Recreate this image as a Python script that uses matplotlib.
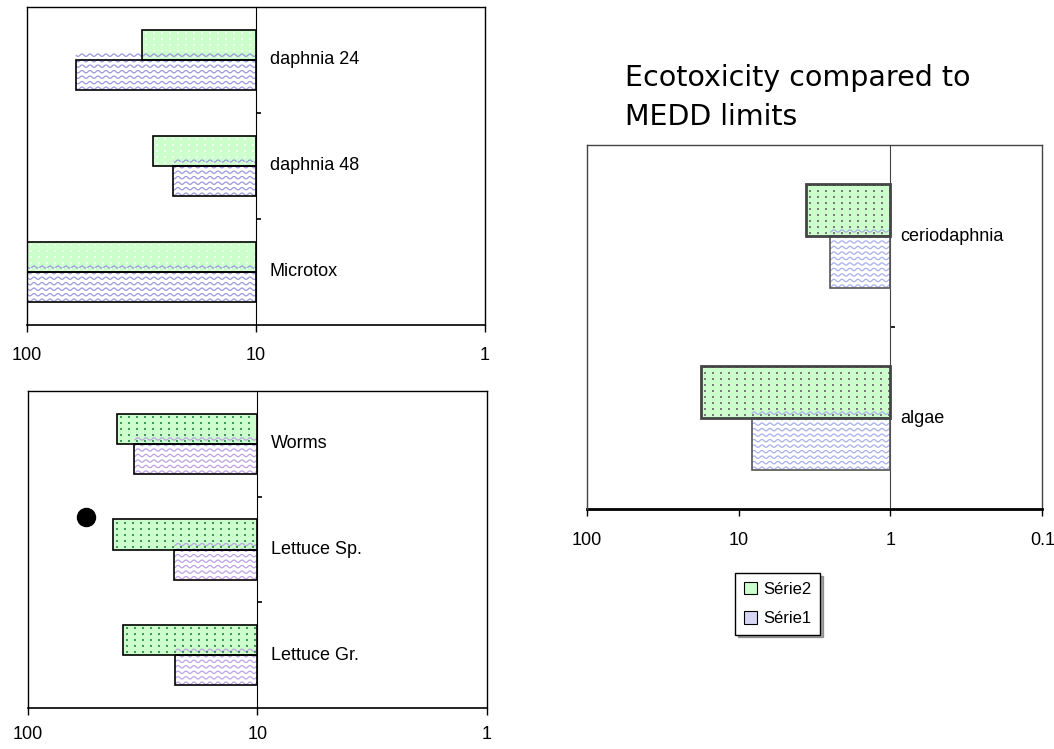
import numpy             as np
import matplotlib
matplotlib.use('Agg')
import matplotlib.pyplot as plt

from matplotlib.collections import LineCollection
from matplotlib.patches     import Patch
from matplotlib.transforms  import IdentityTransform
from matplotlib.ticker      import FixedLocator, FixedFormatter, NullLocator

labelfont = 'Liberation Sans'
labelsize = 13

# Toxicity values (bars start at the crossing value and run to the left)
top_categories = ['Microtox', 'daphnia 48', 'daphnia 24']
top_serie1     = [100, 23.0, 61.0]
top_serie2     = [100, 28.0, 31.5]

bottom_categories = ['Lettuce Gr.', 'Lettuce Sp.', 'Worms']
bottom_serie1     = [22.8, 23.0, 34.3]
bottom_serie2     = [38.6, 42.4, 40.7]

right_categories = ['algae', 'ceriodaphnia']
right_serie1     = [8.2, 2.5]
right_serie2     = [17.6, 3.6]

# Loose marker drawn on the plant panel
marker_x = 55.5
marker_y = 1.31

green = '#ccffcc'


def wave_texture(ax, bar, color, step=5.5, period=8.0, amp=1.2):
    """Draws wavy lines clipped to a bar (pixel spacing)."""
    bb = bar.get_window_extent()
    x  = np.arange(bb.x0, bb.x1 + 0.5, 0.5)
    segs = []
    for y0 in np.arange(bb.y0 + 2, bb.y1 + step, step):
        segs.append(np.column_stack([x, y0 + amp * np.sin(2 * np.pi * x / period)]))
    waves = LineCollection(segs, colors=color, linewidths=0.9,
                           transform=IdentityTransform(), zorder=2.5)
    waves.set_clip_path(bar)
    ax.add_collection(waves, autolim=False)


def dot_texture(ax, bar, color, dx=8.0, dy=6.0, size=3.0):
    """Draws a regular grid of small dots clipped to a bar."""
    bb = bar.get_window_extent()
    xs = np.arange(bb.x0 + 4, bb.x1, dx)
    ys = np.arange(bb.y0 + 3, bb.y1, dy)
    gx, gy = np.meshgrid(xs, ys)
    dots = ax.scatter(gx.ravel(), gy.ravel(), s=size, marker='s', color=color,
                      linewidths=0, transform=IdentityTransform(), zorder=2.5)
    dots.set_clip_path(bar)


def panel(rect, categories, serie1, serie2, base, xlim, xticks, xticklabels,
          wave_color, dot_color, edge1='black', edge2='black', lw2=1.2,
          frame_color='black', bottom_lw=1.2, pad=11, label_dx=10):
    ax = fig.add_axes(rect)
    ax.set_xscale('log')
    ax.set_xlim(*xlim)
    n = len(categories)
    ax.set_ylim(-0.5, n - 0.5)
    ax.set_autoscale_on(False)

    h   = 0.285
    pos = np.arange(n)
    s1  = np.array(serie1, dtype=float)
    s2  = np.array(serie2, dtype=float)

    bars1 = ax.barh(pos - h / 2, s1 - base, left=base, height=h,
                    color='white', edgecolor='none', zorder=2)
    bars2 = ax.barh(pos + h / 2, s2 - base, left=base, height=h,
                    color=green, edgecolor='none', zorder=2)
    for b in bars1:
        wave_texture(ax, b, wave_color)
    for b in bars2:
        dot_texture(ax, b, dot_color)
    ax.barh(pos - h / 2, s1 - base, left=base, height=h, fill=False,
            edgecolor=edge1, linewidth=1.2, zorder=3)
    ax.barh(pos + h / 2, s2 - base, left=base, height=h, fill=False,
            edgecolor=edge2, linewidth=lw2, zorder=3)

    # Category axis crosses at the base value
    ax.spines['left'].set_position(('data', base))
    ax.spines['left'].set_color(frame_color)
    for side in ['top', 'right']:
        ax.spines[side].set_color(frame_color)
        ax.spines[side].set_linewidth(1.0)
    ax.spines['bottom'].set_linewidth(bottom_lw)
    ax.plot([0, 0], [0, 1], transform=ax.transAxes, color=frame_color,
            lw=1.0, clip_on=False, zorder=4)

    ax.yaxis.set_major_locator(FixedLocator(np.arange(n - 1) + 0.5))
    ax.yaxis.set_major_formatter(FixedFormatter([''] * (n - 1)))
    ax.tick_params(axis='y', direction='in', length=3.5, width=1.2)

    ax.xaxis.set_major_locator(FixedLocator(xticks))
    ax.xaxis.set_major_formatter(FixedFormatter(xticklabels))
    ax.xaxis.set_minor_locator(NullLocator())
    ax.tick_params(axis='x', direction='out', length=5, width=1.0, pad=pad,
                   labelsize=labelsize)
    for t in ax.get_xticklabels():
        t.set_fontfamily(labelfont)

    for i, name in enumerate(categories):
        ax.annotate(name, xy=(base, i), xytext=(label_dx, 0), textcoords='offset points',
                    ha='left', va='center', fontsize=labelsize, family=labelfont)
    return ax


fig = plt.figure(figsize=(10.54, 7.49), dpi=100)

# Aquatic tests
panel([0.0253, 0.5661, 0.4349, 0.4246], top_categories, top_serie1, top_serie2,
      10, (100, 1), [100, 10, 1], ['100', '10', '1'],
      wave_color='#9a9ade', dot_color='#f2fff2', pad=11)

# Soil / plant tests
ax_b = panel([0.0263, 0.0547, 0.4355, 0.4232], bottom_categories, bottom_serie1, bottom_serie2,
             10, (100, 1), [100, 10, 1], ['100', '10', '1'],
             wave_color='#bda3e6', dot_color='#3f9a5f', pad=8)
ax_b.plot(marker_x, marker_y, 'o', color='black', ms=13, zorder=5)

# Comparison with MEDD limits
panel([0.5566, 0.3200, 0.4323, 0.4864], right_categories, right_serie1, right_serie2,
      1, (100, 0.1), [100, 10, 1, 0.1], ['100', '10', '1', '0.1'],
      wave_color='#aab0ec', dot_color='#7a7a7a', edge1='#555555', edge2='#444444',
      lw2=2.0, frame_color='#444444', bottom_lw=2.0, pad=11, label_dx=7)

fig.text(0.593, 0.915, 'Ecotoxicity compared to\nMEDD limits', ha='left', va='top',
         fontsize=20.5, family='DejaVu Sans', linespacing=1.5)

handles = [Patch(facecolor=green, edgecolor='black', linewidth=0.8),
           Patch(facecolor='#d6d6f4', edgecolor='black', linewidth=0.8)]
fig.legend(handles, ['Série2', 'Série1'], loc='center', bbox_to_anchor=(0.738, 0.1936),
           prop={'family': labelfont, 'size': 12}, frameon=True, fancybox=False,
           shadow=True, edgecolor='black', handlelength=0.8, handleheight=0.8,
           handletextpad=0.4, borderpad=0.5, labelspacing=0.85, borderaxespad=0)

plt.savefig('out.png', dpi=100)
